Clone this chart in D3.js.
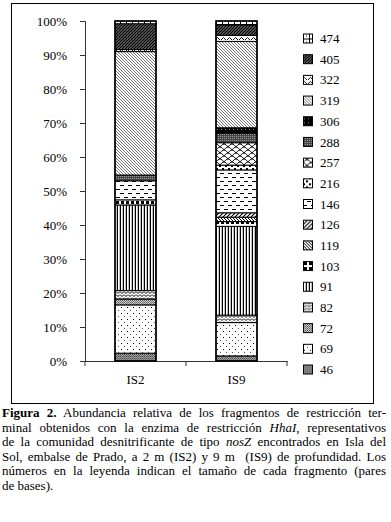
<!DOCTYPE html>
<html>
<head>
<meta charset="utf-8">
<script src="https://cdn.jsdelivr.net/npm/d3@7"></script>
<style>
  body { margin: 0; background: #fff; font-family: "Liberation Serif", "Times New Roman", serif; }
  #wrap { position: relative; width: 391px; height: 522px; }
  #caption { position: absolute; left: 2px; top: 406px; width: 384px; font-size: 13px; line-height: 14.6px; color: #000; }
  #caption div { white-space: nowrap; text-align: justify; text-align-last: justify; }
  #caption div.last { text-align-last: left; }
</style>
</head>
<body>
<div id="wrap">
  <div id="chart"></div>
  <div id="caption"></div>
</div>
<script>
/* Figura 2 - stacked 100% bars of T-RFLP fragments (HhaI), IS2 vs IS9 */

const categories = ['IS2', 'IS9'];
// fragment sizes (bp), bottom of the stack first
const fragments = ['46', '69', '72', '82', '91', '103', '119', '126', '146', '216', '257', '288', '306', '319', '322', '405', '474'];
const is2Values = [2.3, 14.2, 1.7, 2.5, 25.2, 1.5, 0, 0, 5.6, 0, 0, 1.7, 0, 36.3, 0.6, 7.6, 0.8];
const is9Values = [1.5, 9.8, 0, 2.2, 26.1, 1.4, 1.3, 1.3, 12.6, 1.4, 6.6, 2.8, 1.6, 25.4, 1.8, 3.0, 1.2];
const yTicks = [0, 10, 20, 30, 40, 50, 60, 70, 80, 90, 100];

const captionLines = [
    [['Figura 2.', 'b'], [' Abundancia relativa de los fragmentos de restricción ter-', '']],
    [['minal obtenidos con la enzima de restricción ', ''], ['HhaI,', 'i'], [' representativos', '']],
    [['de la comunidad desnitrificante de tipo ', ''], ['nosZ', 'i'], [' encontrados en Isla del', '']],
    [['Sol, embalse de Prado, a 2 m (IS2) y 9 m  (IS9) de profundidad. Los', '']],
    [['números en la leyenda indican el tamaño de cada fragmento (pares', '']],
    [['de bases).', '']]
];

const width = 391, height = 405;
const margin = {top: 21, right: 104, bottom: 44, left: 85};

// build rows for d3.stack
const table = categories.map((c, i) => {
    let row = {cat: c};
    fragments.forEach((f, j) => { row[f] = i == 0 ? is2Values[j] : is9Values[j]; });
    return row;
});
const series = d3.stack().keys(fragments)(table);

let svg = d3.select('#chart')
    .append('svg')
    .attr('width', width)
    .attr('height', height)
    .style('display', 'block');

// ---- fill patterns (excel style) ----
const defs = svg.append('defs');
function pat(id, w, h, bg) {
    let p = defs.append('pattern')
        .attr('id', 'p' + id)
        .attr('patternUnits', 'userSpaceOnUse')
        .attr('width', w).attr('height', h);
    p.append('rect').attr('width', w).attr('height', h).attr('fill', bg);
    return p;
}
function px(p, x, y, c, w = 1, h = 1) {
    p.append('rect').attr('x', x).attr('y', y).attr('width', w).attr('height', h).attr('fill', c);
}
function line(p, d, c, sw) {
    p.append('path').attr('d', d).attr('stroke', c).attr('stroke-width', sw).attr('fill', 'none');
}
let p;
p = pat('46', 2, 2, '#a0a0a0'); px(p, 0, 0, '#484848'); px(p, 1, 1, '#686868');
p = pat('69', 6, 6, '#fff'); px(p, 1, 1, '#000'); px(p, 4, 4, '#555');
p = pat('72', 2, 2, '#d0d0d0'); px(p, 0, 0, '#555'); px(p, 1, 1, '#777');
p = pat('82', 4, 3, '#fff'); line(p, 'M0,0.5 L2,2.5 L4,0.5', '#000', 1);
p = pat('91', 3, 4, '#fff'); px(p, 0, 0, '#000', 1, 4); px(p, 2, 0, '#999', 0.6, 4);
p = pat('103', 5, 5, '#fff'); px(p, 1, 1, '#000', 3, 3);
p = pat('119', 3, 3, '#fff'); line(p, 'M0,0 L3,3 M-1,2 L1,4 M2,-1 L4,1', '#000', 1);
p = pat('126', 4, 4, '#fff'); line(p, 'M0,4 L4,0 M-1,1 L1,-1 M3,5 L5,3', '#000', 1.1);
p = pat('146', 8, 8, '#fff'); px(p, 0, 1, '#000', 4, 1); px(p, 4, 5, '#000', 4, 1);
p = pat('216', 6, 6, '#fff'); px(p, 0, 0, '#000', 2, 2); px(p, 3, 3, '#000', 2, 2);
p = pat('257', 8, 6, '#fff'); line(p, 'M0,6 Q4,0 8,6 M-4,3 Q0,-3 4,3 M4,3 Q8,-3 12,3', '#000', 0.9);
p = pat('288', 2, 2, '#454545'); px(p, 0, 0, '#9a9a9a');
p = pat('306', 4, 4, '#000'); px(p, 1, 1, '#888');
p = pat('319', 3, 3, '#fff'); line(p, 'M0,0 L3,3 M-1,2 L1,4 M2,-1 L4,1', '#555', 0.8);
p = pat('322', 6, 4, '#fff'); line(p, 'M0,3 Q1.5,0 3,3 T6,3', '#000', 0.9);
p = pat('405', 3, 3, '#fff'); line(p, 'M0,3 L3,0 M-1,1 L1,-1 M2,4 L4,2', '#000', 1.6);
p = pat('474', 6, 6, '#fff'); line(p, 'M0,0.5 H6 M0.5,0 V6', '#000', 1); px(p, 3, 3, '#000');

// outer frame of the figure
svg.append('rect')
    .attr('x', 11.5).attr('y', 3.5)
    .attr('width', 362).attr('height', 400)
    .attr('fill', 'none')
    .attr('stroke', '#000');

let x = d3.scaleBand()
    .domain(categories)
    .range([margin.left, width - margin.right])
    .paddingInner(0.594)
    .paddingOuter(0.297);

let y = d3.scaleLinear()
    .domain([0, 100])
    .range([height - margin.bottom, margin.top]);

const yAxis = g => g
    .attr('transform', `translate(${margin.left}, 0)`)
    .call(d3.axisLeft(y).tickValues(yTicks).tickFormat(d => d + '%').tickSize(5).tickPadding(13))
    .call(g => g.selectAll('text').attr('font-size', 13).attr('font-family', '"Liberation Serif", serif').attr('fill', '#000'))
    .call(g => g.selectAll('line, path').attr('stroke', '#333'));

const xAxis = g => g
    .attr('transform', `translate(0, ${y(0)})`)
    .call(d3.axisBottom(x).tickSize(0).tickPadding(14))
    .call(g => g.select('.domain').attr('stroke', '#333'))
    .call(g => g.selectAll('text').attr('font-size', 13).attr('font-family', '"Liberation Serif", serif').attr('fill', '#000'));

svg.append('g').call(yAxis);
svg.append('g').call(xAxis);

// ticks on x sit at the category boundaries
const bounds = [x.range()[0]].concat(categories.map(c => x(c) + x.bandwidth() + x.step() * x.paddingInner() / 2));
svg.append('g')
    .selectAll('line')
    .data(bounds)
    .join('line')
    .attr('x1', d => d).attr('x2', d => d)
    .attr('y1', y(0)).attr('y2', y(0) + 5)
    .attr('stroke', '#333');

// stacked bars
let layer = svg.append('g')
    .selectAll('g')
    .data(series)
    .join('g')
    .attr('fill', d => `url(#p${d.key})`);

layer.selectAll('rect')
    .data(d => d.filter(s => s[1] - s[0] > 0))
    .join('rect')
    .attr('x', d => x(d.data.cat))
    .attr('width', x.bandwidth())
    .attr('y', d => y(d[1]))
    .attr('height', d => y(d[0]) - y(d[1]))
    .attr('stroke', '#000')
    .attr('stroke-width', 1);

svg.append('g')
    .selectAll('rect')
    .data(categories)
    .join('rect')
    .attr('x', d => x(d))
    .attr('width', x.bandwidth())
    .attr('y', y(100))
    .attr('height', y(0) - y(100))
    .attr('fill', 'none')
    .attr('stroke', '#000')
    .attr('stroke-width', 1.5);

// legend, top entry is the top of the stack
const legendOrder = fragments.slice().reverse();
let ly = d3.scalePoint().domain(legendOrder).range([38.5, 369.5]);

let legend = svg.append('g')
    .selectAll('g')
    .data(legendOrder)
    .join('g')
    .attr('transform', d => `translate(303, ${ly(d)})`);

legend.append('rect')
    .attr('x', 0.5).attr('y', -4.5)
    .attr('width', 9).attr('height', 9)
    .attr('fill', d => `url(#p${d})`)
    .attr('stroke', '#000');

legend.append('text')
    .attr('x', 17)
    .attr('dy', '0.35em')
    .attr('font-size', 13)
    .attr('font-family', '"Liberation Serif", serif')
    .text(d => d);

// caption
let cap = d3.select('#caption')
    .selectAll('div')
    .data(captionLines)
    .join('div')
    .classed('last', (d, i) => i == captionLines.length - 1);

cap.selectAll('span')
    .data(d => d)
    .join('span')
    .style('font-weight', d => d[1] == 'b' ? 'bold' : null)
    .style('font-style', d => d[1] == 'i' ? 'italic' : null)
    .style('white-space', 'pre-wrap')
    .text(d => d[0]);
</script>
</body>
</html>
